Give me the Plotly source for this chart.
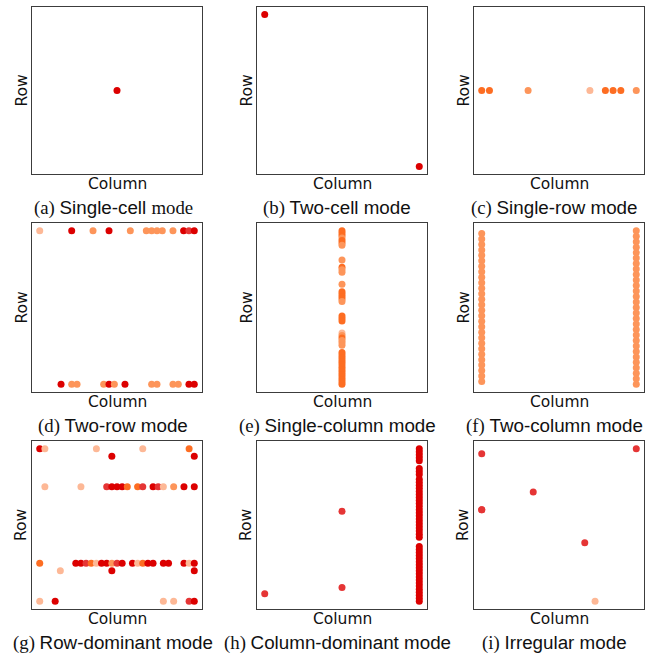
import plotly.graph_objects as go

W, H = 652, 658

# ---------------- data (column index, row index, intensity level 1..5) ----------------
a_cols = [0]
a_rows = [0]
a_lvl = [5]

b_cols = [0, 1]
b_rows = [0, 1]
b_lvl = [5, 5]

c_cols = [0, 1, 6, 14, 16, 17, 18, 20]
c_rows = [0, 0, 0, 0, 0, 0, 0, 0]
c_lvl = [3, 3, 2, 1, 3, 3, 3, 2]

d_cols = [0, 6, 10, 13, 17, 20, 21, 22, 23, 25, 27, 28, 29,
          4, 6, 7, 12, 13, 14, 16, 21, 22, 25, 26, 28, 29]
d_rows = [0, 0, 0, 0, 0, 0, 0, 0, 0, 0, 0, 0, 0,
          1, 1, 1, 1, 1, 1, 1, 1, 1, 1, 1, 1, 1]
d_lvl = [1, 5, 2, 5, 2, 2, 2, 2, 2, 2, 5, 4, 5,
         5, 2, 2, 2, 5, 2, 5, 2, 2, 2, 2, 5, 5]

e_rows = [0, 1, 2, 3, 4, 5, 6, 12, 15, 16, 17, 22, 25, 26, 27, 28, 29,
          35, 36, 37, 42, 43, 44, 45, 46, 47, 50, 51, 52, 53, 54, 55, 56,
          57, 58, 59, 60, 61, 62, 63]
e_cols = [0] * len(e_rows)
e_lvl = [3, 3, 3, 2, 3, 3, 2, 2, 3, 2, 2, 2, 3, 3, 3, 3, 2,
         3, 3, 3, 1, 2, 3, 2, 2, 2, 3, 3, 3, 3, 3, 3, 3,
         3, 3, 3, 3, 3, 3, 3]

f_rows = [1, 3, 5, 7, 9, 11, 13, 15, 17, 19, 21, 23, 25, 27, 29, 31, 33, 35,
          37, 39, 41, 43, 45, 47, 49, 51, 53, 55,
          0, 2, 4, 6, 8, 10, 12, 14, 16, 18, 20, 22, 24, 26, 28, 30, 32, 34,
          36, 38, 40, 42, 44, 46, 48, 50, 52, 54, 56]
f_cols = [0] * 28 + [1] * 29
f_lvl = [2] * len(f_rows)

g_cols = [0, 1, 11, 20, 29,
          14, 30,
          1, 8, 13, 14, 15, 16, 17, 19, 20, 22, 23, 24, 26, 28, 30,
          0, 7, 8, 9, 10, 11, 12, 13, 14, 15, 16, 18, 19, 20, 21, 22, 24, 25, 28, 29, 30,
          4, 14, 30,
          0, 3, 24, 26, 29, 30]
g_rows = [0, 0, 0, 0, 0,
          1, 1,
          5, 5, 5, 5, 5, 5, 5, 5, 5, 5, 5, 5, 5, 5, 5,
          15, 15, 15, 15, 15, 15, 15, 15, 15, 15, 15, 15, 15, 15, 15, 15, 15, 15, 15, 15, 15,
          16, 16, 16,
          20, 20, 20, 20, 20, 20]
g_lvl = [5, 1, 1, 1, 3,
         5, 5,
         1, 1, 4, 5, 5, 5, 3, 3, 4, 5, 4, 1, 2, 5, 5,
         3, 5, 5, 4, 3, 1, 5, 5, 2, 4, 5, 5, 1, 3, 5, 5, 5, 5, 5, 1, 5,
         1, 5, 5,
         1, 5, 1, 1, 4, 5]

h_right_rows = [0, 2, 4, 6, 8, 13, 15, 17, 20, 22, 24, 26, 28, 30, 32, 34, 36,
                38, 40, 42, 44, 46, 48, 50, 52, 54, 56, 58, 64, 66, 68, 70, 72,
                74, 76, 78, 80, 82, 84, 86, 88, 90, 92, 94, 96, 98, 100]
h_cols = [0, 10, 10] + [20] * len(h_right_rows)
h_rows = [95, 41, 91] + h_right_rows
h_lvl = [4, 4, 4] + [5] * len(h_right_rows)

i_cols = [0, 30, 10, 0, 0, 20, 22]
i_rows = [2, 0, 17, 24, 24, 37, 60]
i_lvl = [4, 4, 4, 4, 4, 4, 1]

captions = [
    '<span style="font-family:Liberation Serif">(a) </span>Single-cell <span style="font-family:Liberation Serif">mode</span>',
    '<span style="font-family:Liberation Serif">(b) </span>Two-cell mode',
    '<span style="font-family:Liberation Serif">(c) </span>Single-row mode',
    '<span style="font-family:Liberation Serif">(d) </span>Two-row mode',
    '<span style="font-family:Liberation Serif">(e) </span>Single-column mode',
    '<span style="font-family:Liberation Serif">(f) </span>Two-column mode',
    '<span style="font-family:Liberation Serif">(g) </span>Row-dominant mode',
    '<span style="font-family:Liberation Serif">(h) </span>Column-dominant mode',
    '<span style="font-family:Liberation Serif">(i) </span>Irregular mode',
]
x_label = "Column"
y_label = "Row"

panels = [
    (a_cols, a_rows, a_lvl), (b_cols, b_rows, b_lvl), (c_cols, c_rows, c_lvl),
    (d_cols, d_rows, d_lvl), (e_cols, e_rows, e_lvl), (f_cols, f_rows, f_lvl),
    (g_cols, g_rows, g_lvl), (h_cols, h_rows, h_lvl), (i_cols, i_rows, i_lvl),
]

# ---------------- style ----------------
palette = {1: "#fdb896", 2: "#fd955a", 3: "#fd6d22", 4: "#e53535", 5: "#dc0000"}
col_px = [(32, 202), (257, 427), (474, 644)]
row_px = [(7, 174), (223, 392), (441, 609)]
cap_x = [113, 337, 554]


def rng(vals, reverse=False):
    lo, hi = min(vals), max(vals)
    if lo == hi:
        r = [lo - 1, hi + 1]
    else:
        p = 0.05 * (hi - lo)
        r = [lo - p, hi + p]
    return r[::-1] if reverse else r


fig = go.Figure()
layout = dict(width=W, height=H, margin=dict(l=0, r=0, t=0, b=0),
              paper_bgcolor="white", plot_bgcolor="white", showlegend=False)
annotations = []

for k, (cols, rows, lvl) in enumerate(panels):
    ri, ci = divmod(k, 3)
    n = "" if k == 0 else str(k + 1)
    x0, x1 = col_px[ci]
    y0, y1 = row_px[ri]
    fig.add_trace(go.Scatter(
        x=cols, y=rows, mode="markers", xaxis="x" + n, yaxis="y" + n,
        marker=dict(size=7, color=[palette[v] for v in lvl], line=dict(width=0)),
        hoverinfo="skip"))
    axcommon = dict(showline=True, mirror=True, linecolor="#3c3c3c", linewidth=1.3,
                    showgrid=False, zeroline=False, showticklabels=False, ticks="")
    layout["xaxis" + n] = dict(domain=[x0 / W, x1 / W], range=rng(cols),
                               anchor="y" + n, **axcommon)
    layout["yaxis" + n] = dict(domain=[1 - y1 / H, 1 - y0 / H], range=rng(rows, True),
                               anchor="x" + n, **axcommon)
    annotations.append(dict(text=x_label, x=(x0 + x1) / 2 / W, y=1 - (y1 + 10) / H,
                            xref="paper", yref="paper", showarrow=False,
                            xanchor="center", yanchor="middle",
                            font=dict(family="DejaVu Sans", size=15.5, color="#111")))
    annotations.append(dict(text=y_label, x=(x0 - 11) / W, y=1 - (y0 + y1) / 2 / H,
                            xref="paper", yref="paper", showarrow=False, textangle=-90,
                            xanchor="center", yanchor="middle",
                            font=dict(family="DejaVu Sans", size=15.5, color="#111")))
    annotations.append(dict(text=captions[k], x=cap_x[ci] / W, y=1 - (y1 + 34) / H,
                            xref="paper", yref="paper", showarrow=False,
                            xanchor="center", yanchor="middle",
                            font=dict(family="Liberation Sans", size=18.8, color="#111")))

layout["annotations"] = annotations
fig.update_layout(**layout)
fig.write_html("out.html", config={"displayModeBar": False},
               post_script="document.body.style.margin='0';document.body.style.overflow='hidden';")
